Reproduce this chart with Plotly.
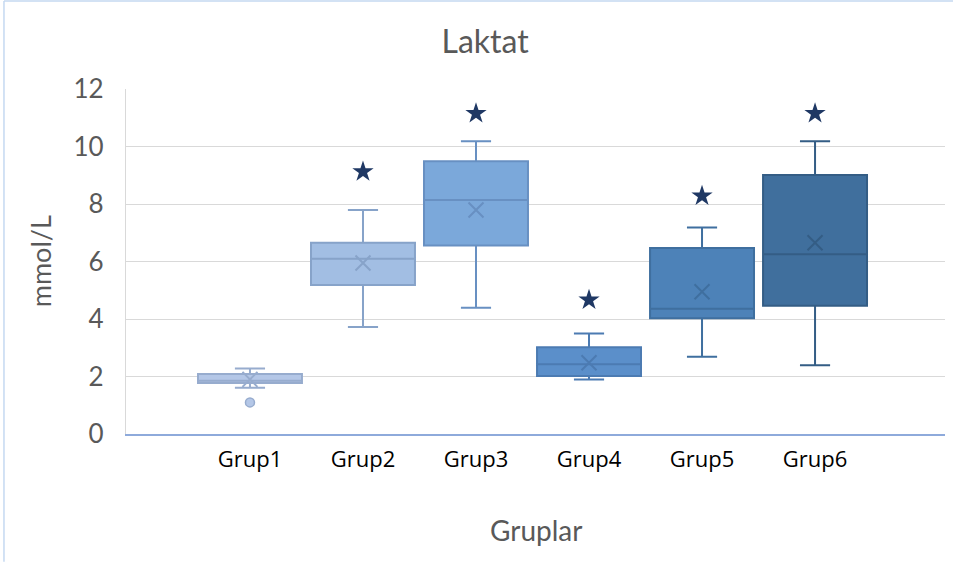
import plotly.graph_objects as go

# Lactate summary statistics per group (mmol/L)
groups = ["Grup1", "Grup2", "Grup3", "Grup4", "Grup5", "Grup6"]
q1 = [1.77, 5.18, 6.56, 2.02, 4.03, 4.46]
median = [1.85, 6.10, 8.14, 2.43, 4.36, 6.25]
q3 = [2.09, 6.65, 9.49, 3.02, 6.47, 9.01]
lower_whisker = [1.61, 3.72, 4.39, 1.90, 2.69, 2.39]
upper_whisker = [2.28, 7.79, 10.18, 3.50, 7.18, 10.18]
means = [1.90, 5.95, 7.79, 2.48, 4.95, 6.65]

# Outlier points (group index, value)
outlier_group = [0]
outlier_value = [1.10]

# Significance stars (group index, height)
star_group = [1, 2, 3, 4, 5]
star_value = [9.12, 11.15, 4.66, 8.28, 11.15]

y_ticks = [0, 2, 4, 6, 8, 10, 12]

fills = ["#b4c7e7", "#a2bee3", "#7ba8da", "#5b8fca", "#4d82b8", "#406f9d"]
edges = ["#97acce", "#87a3c9", "#6890c2", "#4c7bb2", "#3f6f9f", "#345d85"]
star_color = "#1f3864"

FONT = "Lato, 'Open Sans', sans-serif"
LABEL_FONT = "'Open Sans', sans-serif"

fig = go.Figure()

xs = list(range(len(groups)))
for i in xs:
    fig.add_trace(go.Box(
        x=[i], q1=[q1[i]], median=[median[i]], q3=[q3[i]],
        lowerfence=[lower_whisker[i]], upperfence=[upper_whisker[i]],
        fillcolor=fills[i], line=dict(color=edges[i], width=2),
        width=0.92, whiskerwidth=0.29, boxpoints=False,
        name=groups[i], showlegend=False, hoverinfo="skip",
    ))
    fig.add_trace(go.Scatter(
        x=[i], y=[means[i]], mode="markers",
        marker=dict(symbol="x-thin-open", size=15, color=edges[i],
                    line=dict(color=edges[i], width=2)),
        showlegend=False, hoverinfo="skip",
    ))

fig.add_trace(go.Scatter(
    x=outlier_group, y=outlier_value, mode="markers",
    marker=dict(symbol="circle", size=9, color=fills[0],
                line=dict(color=edges[0], width=1.5)),
    showlegend=False, hoverinfo="skip",
))

fig.add_trace(go.Scatter(
    x=star_group, y=star_value, mode="markers",
    marker=dict(symbol="star", size=16, color=star_color),
    showlegend=False, hoverinfo="skip",
))

fig.update_layout(
    width=953, height=562,
    margin=dict(l=126, r=8, t=89, b=128),
    paper_bgcolor="white", plot_bgcolor="white",
    boxmode="overlay",
    font=dict(family=FONT, color="#595959"),
    title=dict(text="Laktat", x=0.509, xanchor="center", y=0.925, yanchor="middle",
               font=dict(size=32, color="#595959", family=FONT)),
    xaxis=dict(
        range=[-1.097, 6.15], tickmode="array", tickvals=xs, ticktext=groups,
        showgrid=False, zeroline=False,
        showline=True, linecolor="#8eaadb", linewidth=2,
        ticks="", ticklabelstandoff=5,
        tickfont=dict(size=22, color="#000000", family=LABEL_FONT),
    ),
    yaxis=dict(
        range=[0, 12], tickmode="array", tickvals=y_ticks,
        showgrid=True, gridcolor="#d9d9d9", gridwidth=1.3,
        zeroline=False, showline=True, linecolor="#d9d9d9", linewidth=1.3,
        ticks="", ticklabelstandoff=16,
        tickfont=dict(size=26, color="#595959", family=FONT),
    ),
    annotations=[
        dict(text="mmol/L", xref="paper", yref="paper", x=-0.104, y=0.5,
             textangle=-90, showarrow=False, xanchor="center", yanchor="middle",
             font=dict(size=27, color="#595959", family=FONT)),
        dict(text="Gruplar", xref="paper", yref="paper", x=0.5, y=-0.278,
             showarrow=False, xanchor="center", yanchor="middle",
             font=dict(size=28, color="#595959", family=FONT)),
    ],
    shapes=[
        dict(type="line", xref="paper", yref="paper",
             x0=-0.149, x1=-0.149, y0=1.255, y1=-0.37,
             line=dict(color="#c5d9f1", width=1.5)),
        dict(type="line", xref="paper", yref="paper",
             x0=-0.149, x1=1.02, y0=1.255, y1=1.255,
             line=dict(color="#c5d9f1", width=1.5)),
    ],
)

fig.write_html("out.html")
